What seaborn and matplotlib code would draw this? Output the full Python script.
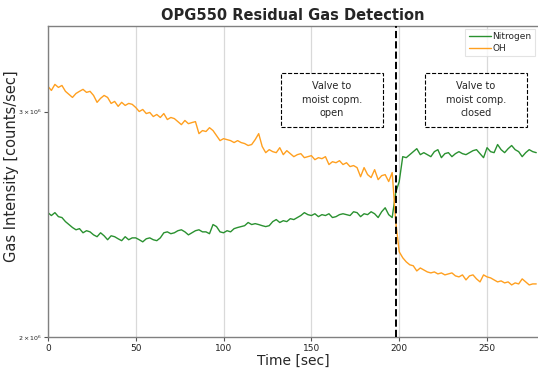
import numpy as np
import pandas as pd
import matplotlib
matplotlib.use("Agg")
import matplotlib.pyplot as plt
from matplotlib.patches import Rectangle
import seaborn as sns

# Sampling period of the residual gas analyser [sec]
STEP = 2

# Measured intensities [10^6 counts/sec], one reading every STEP seconds
nitrogen = [
    2.501, 2.488, 2.501, 2.483, 2.479, 2.461, 2.448, 2.435, 2.425, 2.430,
    2.412, 2.421, 2.416, 2.403, 2.395, 2.412, 2.399, 2.382, 2.399, 2.395,
    2.386, 2.378, 2.395, 2.382, 2.390, 2.390, 2.382, 2.373, 2.386, 2.390,
    2.382, 2.378, 2.390, 2.412, 2.416, 2.408, 2.412, 2.421, 2.425, 2.416,
    2.403, 2.412, 2.421, 2.425, 2.416, 2.416, 2.408, 2.448, 2.439, 2.416,
    2.412, 2.421, 2.416, 2.430, 2.435, 2.439, 2.443, 2.457, 2.448, 2.452,
    2.448, 2.443, 2.439, 2.443, 2.461, 2.470, 2.457, 2.465, 2.461, 2.474,
    2.470, 2.479, 2.488, 2.501, 2.492, 2.488, 2.496, 2.483, 2.492, 2.488,
    2.496, 2.479, 2.483, 2.492, 2.496, 2.492, 2.488, 2.505, 2.501, 2.483,
    2.496, 2.492, 2.505, 2.496, 2.479, 2.505, 2.523, 2.492, 2.479, 2.593,
    2.645, 2.766, 2.761, 2.776, 2.791, 2.806, 2.776, 2.786, 2.776, 2.766,
    2.791, 2.801, 2.761, 2.781, 2.786, 2.766, 2.781, 2.791, 2.781, 2.776,
    2.786, 2.796, 2.801, 2.781, 2.761, 2.811, 2.791, 2.786, 2.827, 2.801,
    2.786, 2.806, 2.822, 2.801, 2.791, 2.766, 2.786, 2.801, 2.791, 2.786,
]
oh = [
    3.139, 3.116, 3.150, 3.133, 3.144, 3.111, 3.094, 3.077, 3.099, 3.111,
    3.122, 3.105, 3.111, 3.088, 3.050, 3.072, 3.088, 3.077, 3.044, 3.055,
    3.028, 3.050, 3.033, 3.044, 3.039, 3.022, 3.000, 3.011, 2.989, 2.995,
    2.973, 2.984, 2.968, 2.989, 2.957, 2.968, 2.962, 2.946, 2.930, 2.952,
    2.935, 2.941, 2.946, 2.883, 2.899, 2.894, 2.914, 2.899, 2.873, 2.847,
    2.857, 2.852, 2.847, 2.837, 2.847, 2.837, 2.832, 2.822, 2.827, 2.852,
    2.883, 2.817, 2.786, 2.801, 2.791, 2.786, 2.811, 2.776, 2.796, 2.781,
    2.766, 2.776, 2.781, 2.761, 2.766, 2.771, 2.751, 2.761, 2.756, 2.766,
    2.727, 2.741, 2.736, 2.746, 2.727, 2.736, 2.717, 2.722, 2.712, 2.668,
    2.712, 2.678, 2.664, 2.702, 2.654, 2.673, 2.678, 2.645, 2.688, 2.461,
    2.331, 2.306, 2.289, 2.277, 2.273, 2.252, 2.264, 2.256, 2.248, 2.244,
    2.248, 2.240, 2.244, 2.236, 2.240, 2.244, 2.232, 2.228, 2.236, 2.216,
    2.232, 2.236, 2.220, 2.208, 2.236, 2.228, 2.224, 2.216, 2.208, 2.212,
    2.204, 2.208, 2.196, 2.204, 2.200, 2.220, 2.208, 2.196, 2.200, 2.200,
]
species = ["Nitrogen", "OH"]
colors = {"Nitrogen": "#2a9130", "OH": "#ffa020"}

valve_switch = 198  # time the moisture compartment valve is toggled [sec]
note_open = "Valve to\nmoist copm.\nopen"
note_closed = "Valve to\nmoist comp.\nclosed"

time = np.arange(len(oh)) * STEP
df = pd.concat([
    pd.DataFrame({"Time": time, "Intensity": np.array(nitrogen) * 1e6, "Gas": "Nitrogen"}),
    pd.DataFrame({"Time": time, "Intensity": np.array(oh) * 1e6, "Gas": "OH"}),
], ignore_index=True)

sns.set_style("whitegrid", {
    "axes.edgecolor": "#808080",
    "grid.color": "#d9d9d9",
    "xtick.bottom": True,
    "ytick.left": True,
})
plt.rcParams["font.family"] = ["DejaVu Sans"]

fig = plt.figure(figsize=(5.38, 3.69), dpi=100)
ax = fig.add_axes([0.089, 0.087, 0.911, 0.843])

sns.lineplot(data=df, x="Time", y="Intensity", hue="Gas", hue_order=species,
             palette=colors, linewidth=1.0, ax=ax)

ax.set_yscale("log")
ax.set_xlim(0, 279)
ax.set_ylim(2.0e6, 3.5e6)
ax.grid(axis="y", visible=False)
ax.grid(axis="x", which="major", visible=True, linewidth=0.9)
ax.spines["right"].set_visible(False)
for s in ["left", "bottom", "top"]:
    ax.spines[s].set_linewidth(1.0)

ax.tick_params(axis="x", labelsize=6.5, length=3, width=0.8, pad=2, colors="#555555",
               labelcolor="#222222")
ax.tick_params(axis="y", which="both", labelsize=4.5, length=3, width=0.8, pad=1,
               colors="#555555", labelcolor="#222222")

ax.axvline(valve_switch, color="black", linestyle="--", linewidth=1.4, zorder=5)

# Annotation boxes, placed in axes coordinates
for x0, note in [(0.4755, note_open), (0.769, note_closed)]:
    ax.add_patch(Rectangle((x0, 0.675), 0.208, 0.174, transform=ax.transAxes,
                           facecolor="white", edgecolor="black", linestyle="--",
                           linewidth=0.8, zorder=6))
    ax.text(x0 + 0.104, 0.762, note, transform=ax.transAxes, ha="center",
            va="center", fontsize=7, linespacing=1.45, zorder=7)

ax.set_title("OPG550 Residual Gas Detection", fontsize=10.5, fontweight="bold", pad=4)
ax.set_xlabel("Time [sec]", fontsize=10, labelpad=1)
ax.set_ylabel("Gas Intensity [counts/sec]", fontsize=10.5, labelpad=2)
ax.yaxis.set_label_coords(-0.058, 0.55)

leg = ax.legend(loc="upper right", fontsize=6.5, frameon=True, handlelength=2.4,
                borderpad=0.4, labelspacing=0.3, handletextpad=0.2,
                borderaxespad=0.3, fancybox=False)
leg.get_frame().set_edgecolor("#dddddd")
leg.get_frame().set_linewidth(0.8)

fig.savefig("out.png", dpi=100)
